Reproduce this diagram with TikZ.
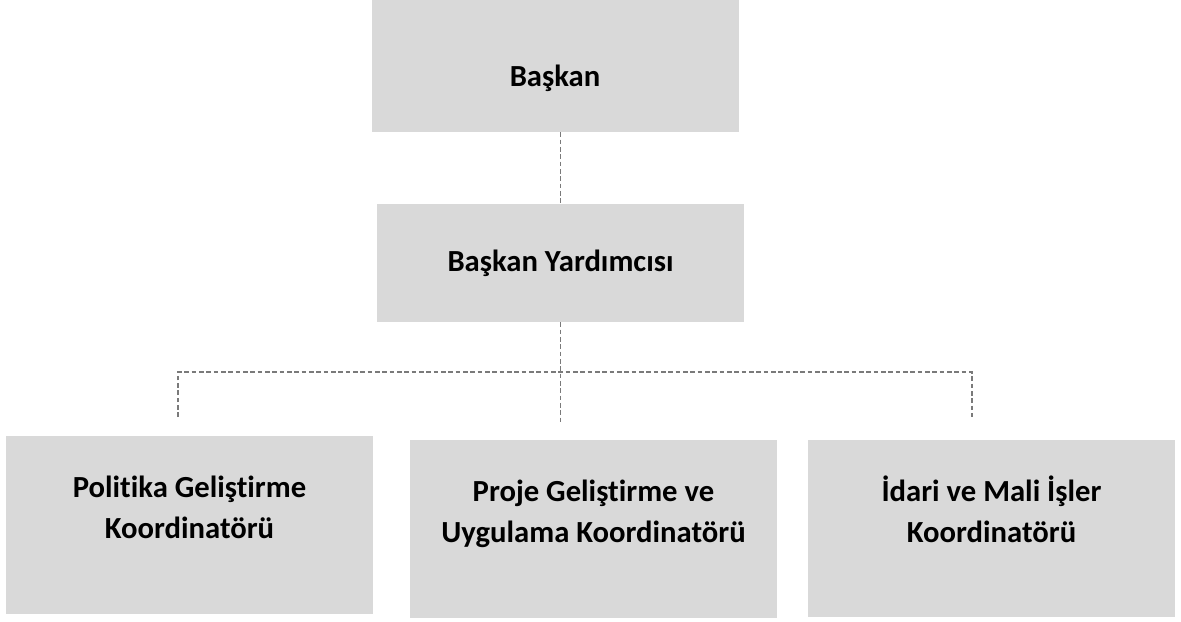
\documentclass[tikz,border=0pt]{standalone}
\usepackage{fontspec}
\setmainfont{Carlito}[Ligatures=NoCommon]
\usepackage{xcolor}
\definecolor{boxgray}{HTML}{D9D9D9}
\definecolor{linegray}{HTML}{7A7A7A}

\tikzset{
  box/.style={fill=boxgray, minimum width=275.25pt, inner sep=0pt},
  lbl/.style={font=\fontsize{23}{30.75}\selectfont\bfseries, align=center, inner sep=0pt, anchor=base},
  link/.style={draw=linegray, line width=1.3pt, dash pattern=on 3.6pt off 1.9pt}
}

\begin{document}
\begin{tikzpicture}[x=0.75pt,y=0.75pt,yscale=-1,xscale=1]
    \useasboundingbox (0,0) rectangle (1181,621);

    %Boxes
    \node[box, minimum height=99pt] (baskan) at (555.5,66) {};
    \node[box, minimum height=88.5pt] (yrd) at (560.5,263) {};
    \node[box, minimum height=133.5pt] (politika) at (189.5,525) {};
    \node[box, minimum height=133.5pt] (proje) at (593.5,529) {};
    \node[box, minimum height=132.75pt] (idari) at (991.5,528.5) {};

    % Text Node
    \node[lbl] (tbaskan) at (555,86) {Başkan};
    % Text Node
    \node[lbl] (tyrd) at (560.5,271.7) {Başkan Yardımcısı};
    % Text Node
    \node[lbl] (tpolitika) at ([yshift=77.4pt]politika.north) {Politika Geliştirme\\Koordinatörü};
    % Text Node
    \node[lbl] (tproje) at ([yshift=77.1pt]proje.north) {Proje Geliştirme ve\\Uygulama Koordinatörü};
    % Text Node
    \node[lbl] (tidari) at ([yshift=77.1pt]idari.north) {İdari ve Mali İşler\\Koordinatörü};

    %Dashed lines
    \coordinate (barL) at (178,372);
    \coordinate (barR) at (972,372);
    \coordinate (tipL) at (178,417);
    \coordinate (tipM) at (560.5,423);
    \coordinate (tipR) at (972,417);
    \draw[link] (baskan.south -| yrd.north) -- (yrd.north);
    \draw[link] (yrd.south) -- (tipM);
    \draw[link] (tipL) -- (barL) -- (barR) -- (tipR);

\end{tikzpicture}
\end{document}
